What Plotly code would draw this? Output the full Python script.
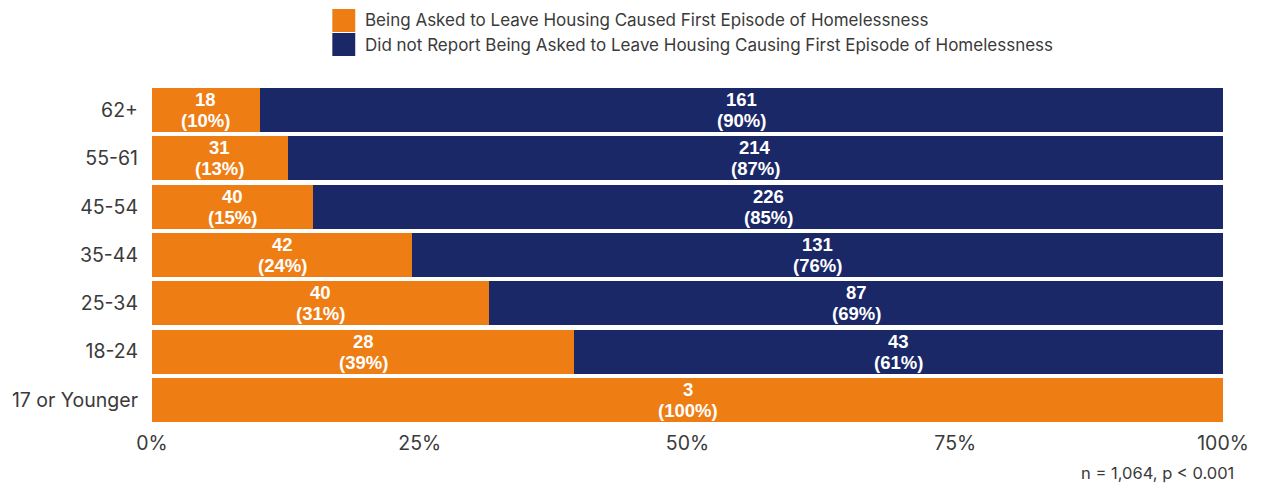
import plotly.graph_objects as go

# Age groups, top to bottom
age_groups = ["62+", "55-61", "45-54", "35-44", "25-34", "18-24", "17 or Younger"]

# Respondent counts per age group
asked_to_leave = [18, 31, 40, 42, 40, 28, 3]
not_asked = [161, 214, 226, 131, 87, 43, 0]

series_names = [
    "Being Asked to Leave Housing Caused First Episode of Homelessness",
    "Did not Report Being Asked to Leave Housing Causing First Episode of Homelessness",
]

x_ticks = [0, 25, 50, 75, 100]
x_tick_labels = ["0%", "25%", "50%", "75%", "100%"]

footnote = "n = 1,064, p < 0.001"

ORANGE = "#EE7D14"
NAVY = "#1B2868"
TEXT = "#3a3a3a"
TICK_FONT = "Inter"
LABEL_FONT = "Liberation Sans"

fig = go.Figure()
fig.add_trace(go.Bar(
    y=age_groups, x=asked_to_leave, orientation="h", name=series_names[0],
    marker=dict(color=ORANGE, line=dict(width=0)), showlegend=False,
))
fig.add_trace(go.Bar(
    y=age_groups, x=not_asked, orientation="h", name=series_names[1],
    marker=dict(color=NAVY, line=dict(width=0)), showlegend=False,
))

# Count and share labels centred in each segment (two lines, tight spacing)
label_font = dict(family=LABEL_FONT, size=18.5, color="white", weight="bold")
annotations = []
for grp, a, b in zip(age_groups, asked_to_leave, not_asked):
    total = a + b
    pa = 100 * a / total
    pb = 100 * b / total
    for count, share, left in ((a, pa, 0), (b, pb, pa)):
        if count == 0:
            continue
        xc = left + share / 2
        for txt, dy in ((f"{count}", 10.5), (f"({round(share)}%)", -10.5)):
            annotations.append(dict(
                x=xc, y=grp, xref="x", yref="y", yshift=dy,
                text=txt, showarrow=False, font=label_font,
                xanchor="center", yanchor="middle",
            ))

# Legend swatches and labels
legend_colors = [ORANGE, NAVY]
shapes = []
for i, (name, col) in enumerate(zip(series_names, legend_colors)):
    y0 = 9 + i * 24
    shapes.append(dict(
        type="rect", xref="paper", yref="paper",
        x0=(333 - 152) / 1075, x1=(356 - 152) / 1075,
        y0=(485 - 61 - (y0 + 23)) / 338, y1=(485 - 61 - y0) / 338,
        fillcolor=col, line=dict(width=0), layer="above",
    ))
    annotations.append(dict(
        x=(364 - 152) / 1075, y=(485 - 61 - (y0 + 11.5)) / 338,
        xref="paper", yref="paper", text=name, showarrow=False,
        xanchor="left", yanchor="middle",
        font=dict(family=TICK_FONT, size=17, color=TEXT),
    ))

annotations.append(dict(
    x=(1240 - 152) / 1075, y=(485 - 61 - 473) / 338, xref="paper", yref="paper",
    text=footnote, showarrow=False, xanchor="right", yanchor="middle",
    font=dict(family=TICK_FONT, size=16.5, color=TEXT),
))

fig.update_layout(
    width=1261, height=485,
    barmode="stack", barnorm="percent", bargap=0.09,
    margin=dict(l=152, r=34, t=86, b=61, pad=0),
    plot_bgcolor="white", paper_bgcolor="white",
    annotations=annotations, shapes=shapes,
    xaxis=dict(
        range=[0, 100], tickvals=x_ticks, ticktext=x_tick_labels,
        showgrid=False, zeroline=False, showline=False, ticks="",
        ticklabelstandoff=5,
        tickfont=dict(family=TICK_FONT, size=19.5, color=TEXT),
    ),
    yaxis=dict(
        categoryorder="array", categoryarray=age_groups, autorange="reversed",
        showgrid=False, zeroline=False, showline=False, ticks="",
        ticklabelstandoff=13,
        tickfont=dict(family=TICK_FONT, size=19.5, color=TEXT),
    ),
)

fig.write_html("out.html")
